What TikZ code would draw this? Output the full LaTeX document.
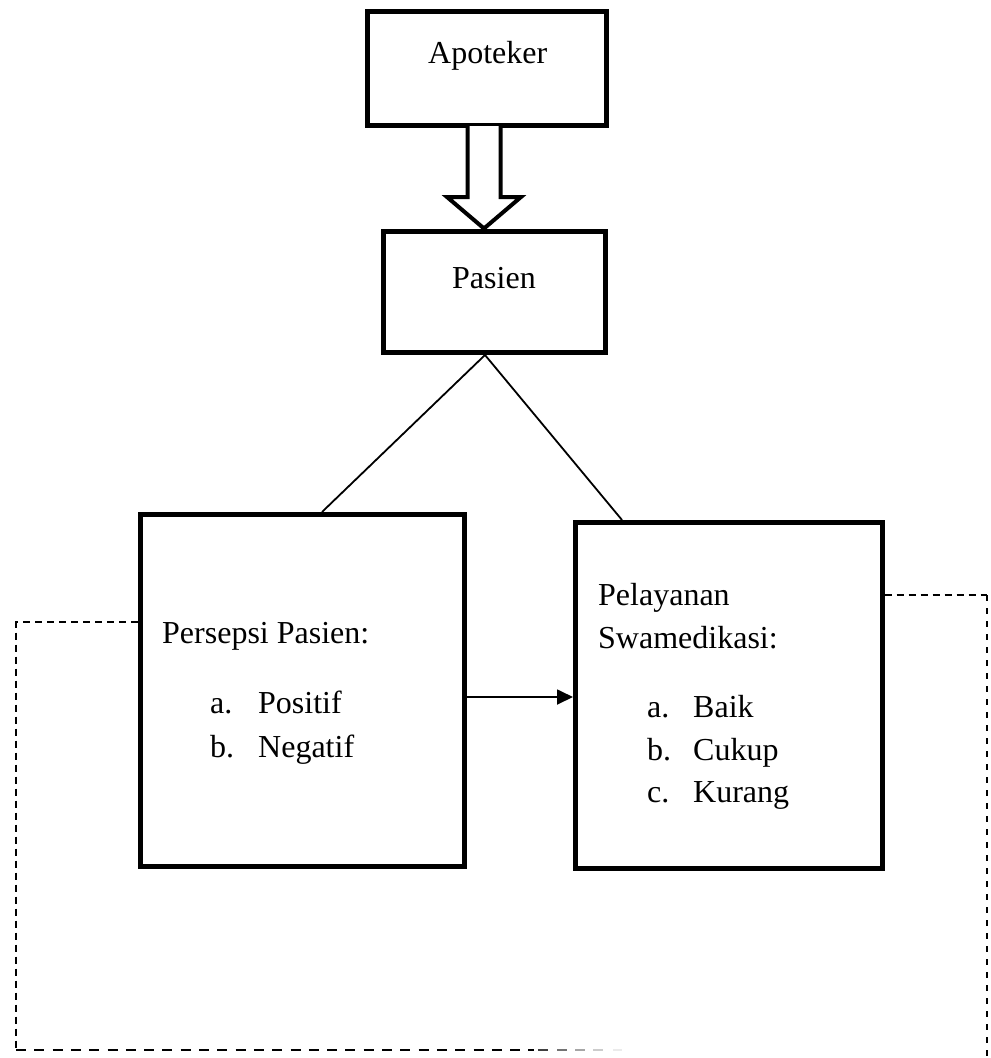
\documentclass[tikz,border=0pt]{standalone}
\usepackage{fontspec}
\setmainfont{Liberation Serif}
\usetikzlibrary{arrows.meta}
\tikzset{
  box/.style={draw, line width=5pt, inner sep=0pt, outer sep=0pt, anchor=north west},
  txt/.style={anchor=base west, inner sep=0pt, font=\fontsize{32}{38}\selectfont},
  thin/.style={line width=1.8pt},
  dashA/.style={line width=2.4pt, dash pattern=on 7pt off 5pt},
  dashB/.style={line width=2.4pt, dash pattern=on 10pt off 8.3pt},
  hollow/.style={line width=4pt, line join=miter, fill=white},
}
\begin{document}
\begin{tikzpicture}[x=1pt,y=-1pt]
\useasboundingbox (0,0) rectangle (991,1058);
% boxes (line centres)
\node[box, minimum width=238.5pt, minimum height=114.5pt] (apo) at (367.5,11) {};
\node[box, minimum width=222.5pt, minimum height=121pt] (pas) at (383,231.5) {};
\node[box, minimum width=324.5pt, minimum height=352pt] (L) at (140,514) {};
\node[box, minimum width=306.5pt, minimum height=346pt] (R) at (575.5,522) {};
% texts
\node[txt] (tApo) at (428,63) {Apoteker};
\node[txt] (tPas) at (452,288) {Pasien};
\node[txt] (tL1) at (162,643) {Persepsi Pasien:};
\node[txt] (tLa) at (210,713) {a.};
\node[txt] (tLa2) at (258,713) {Positif};
\node[txt] (tLb) at (210,757) {b.};
\node[txt] (tLb2) at (258,757) {Negatif};
\node[txt] (tR1) at (598,605) {Pelayanan};
\node[txt] (tR2) at (598,648) {Swamedikasi:};
\node[txt] (tRa) at (647,717) {a.};
\node[txt] (tRa2) at (693,717) {Baik};
\node[txt] (tRb) at (647,760) {b.};
\node[txt] (tRb2) at (693,760) {Cukup};
\node[txt] (tRc) at (647,802) {c.};
\node[txt] (tRc2) at (693,802) {Kurang};
% hollow arrow Apoteker -> Pasien
\draw[hollow] (467.5,126) -- (467.5,197) -- (447,197) -- (484,228.5) -- (521,197) -- (500.5,197) -- (500.5,126);
% branching lines
\coordinate (apex) at (485,355);
\coordinate (lTop) at (322,512);
\coordinate (rTop) at (622,520);
\draw[thin] (apex) -- (lTop);
\draw[thin] (apex) -- (rTop);
% arrow between boxes
\coordinate (ay) at (0,697);
\draw[thin, -{Triangle[length=16pt,width=15pt]}, shorten >=2.5pt] (L.east |- ay) -- (R.west |- ay);
% dashed feedback lines
\coordinate (dl1) at (137.5,622);
\coordinate (dl2) at (16,622);
\coordinate (dl3) at (16,1050);
\coordinate (dl4) at (534,1050);
\draw[dashA] (dl1) -- (dl2) -- (dl3);
\draw[dashB] (dl3) -- (dl4);
\draw[line width=2.4pt, black!75] (538,1050) -- (548,1050);
\draw[line width=2.4pt, black!55] (557,1050) -- (567,1050);
\draw[line width=2.4pt, black!35] (575,1050) -- (585,1050);
\draw[line width=2.4pt, black!20] (593,1050) -- (603,1050);
\draw[line width=2.4pt, black!8] (613,1050) -- (622,1050);
\coordinate (dr1) at (884.5,595);
\coordinate (dr2) at (987,595);
\coordinate (dr3) at (987,1060);
\draw[dashA] (dr1) -- (dr2);
\draw[line width=2.4pt, dash pattern=on 6pt off 7pt] (dr2) -- (dr3);
\end{tikzpicture}
\end{document}
